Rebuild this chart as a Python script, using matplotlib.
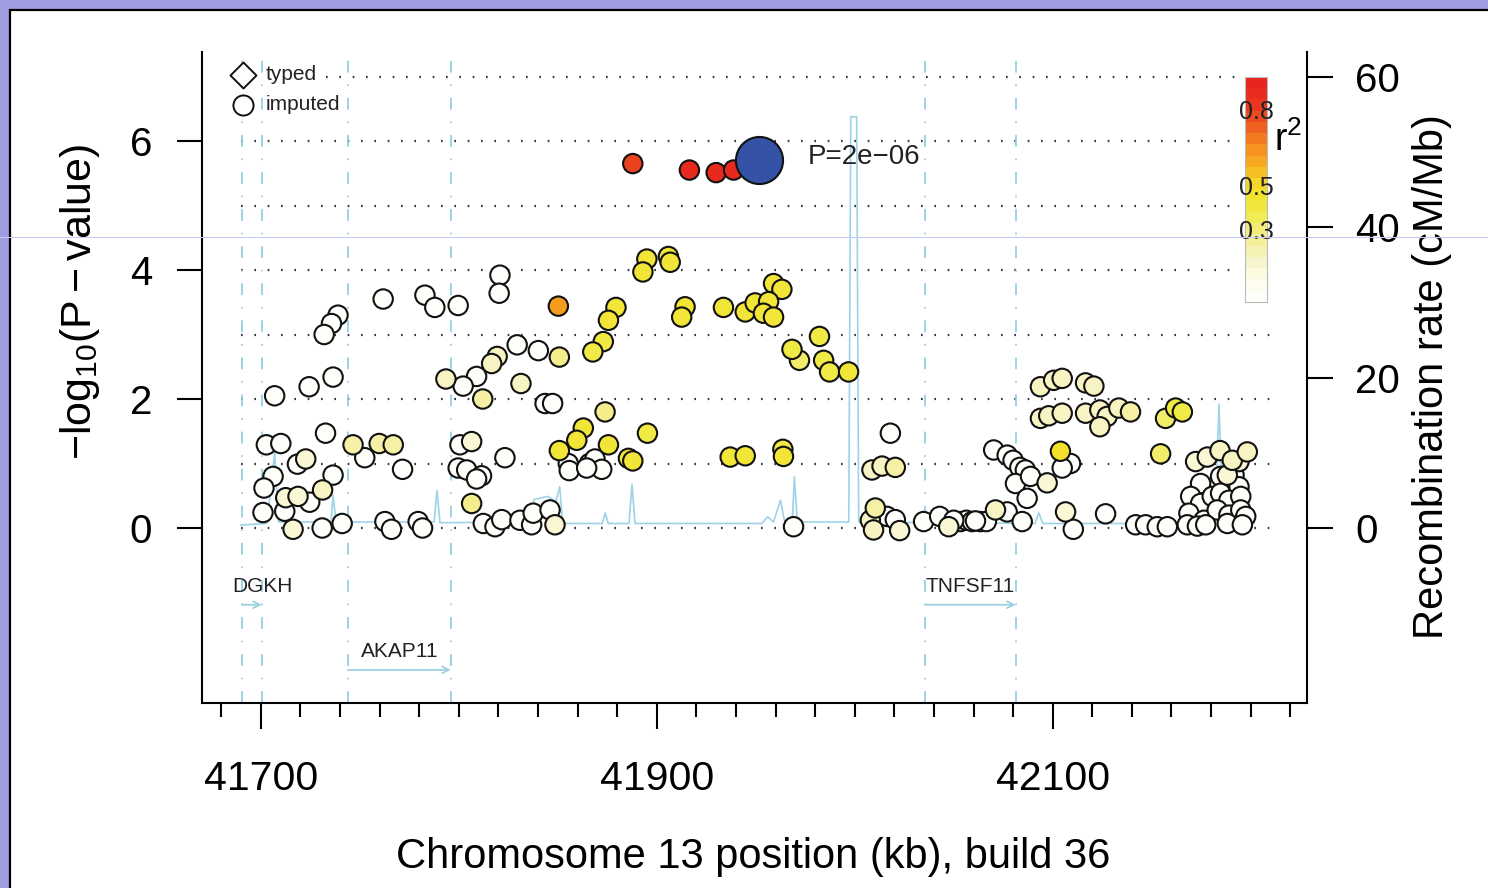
import numpy as np
import matplotlib
matplotlib.use('Agg')
import matplotlib.pyplot as plt
from matplotlib.colors import LinearSegmentedColormap
from matplotlib.patches import Rectangle
from matplotlib.lines import Line2D

plt.rcParams['font.family'] = ['Liberation Sans', 'DejaVu Sans']
plt.rcParams['mathtext.fontset'] = 'custom'
plt.rcParams['mathtext.rm'] = 'Liberation Sans'
plt.rcParams['mathtext.it'] = 'Liberation Sans:italic'
plt.rcParams['lines.scale_dashes'] = False

# imputed SNPs: position (kb), -log10(p), r2 with the lead SNP
snp_kb = [
    41761.8, 41782.9, 41787.9, 41799.7, 41739.0, 41735.7, 41732.0, 41707.0, 41724.4, 41736.5,
    41732.7, 41702.8, 41710.1, 41746.6, 41759.8, 41766.9, 41752.5, 41722.7, 41718.5, 41771.6,
    41706.2, 41736.5, 41701.6, 41731.2, 41712.6, 41718.8, 41724.7, 41701.1, 41712.1, 41716.3,
    41731.0, 41741.1, 41762.7, 41766.0, 41779.5, 41781.7,
    41820.8, 41820.4, 41850.3, 41829.5, 41840.2, 41850.8, 41819.4, 41816.6, 41809.0, 41802.2,
    41793.5, 41812.1, 41831.4, 41843.6, 41847.4, 41873.9, 41862.9, 41859.6, 41850.8, 41875.6,
    41895.3, 41885.7, 41887.9, 41800.6, 41806.5, 41823.3, 41799.7, 41804.0, 41811.5, 41809.0,
    41855.3, 41855.8, 41866.0, 41868.8, 41872.2, 41864.6, 41806.5, 41812.4, 41818.3, 41821.7,
    41830.9, 41836.8, 41837.6, 41846.1, 41848.6,
    41895.0, 41893.0, 41905.9, 41906.8, 41879.4, 41875.6, 41914.3, 41912.6, 41873.0, 41867.7,
    41887.9, 41916.5, 41930.0, 41938.8,
    41959.0, 41963.2, 41933.7, 41944.7, 41949.7, 41956.5, 41953.9, 41959.0, 41982.2, 41968.3,
    41972.1, 41984.3, 41987.3, 41996.9, 41937.1, 41944.7, 41963.7, 41964.0, 41969.1,
    42018.0, 42008.7, 42013.8, 42020.5, 42010.4, 42007.9, 42009.5, 42016.3, 42020.5, 42022.7,
    42034.8, 42042.9, 42047.5, 42053.4, 42056.4, 42059.3, 42063.5, 42066.5, 42071.1, 42077.0,
    42084.6, 42070.2, 42077.0, 42080.0, 42083.4, 42086.2, 42081.2, 42088.8, 42087.1, 42097.2,
    42103.9, 42109.0, 42104.8, 42106.5, 42110.4, 42093.8, 42100.5, 42104.8, 42093.8, 42098.0,
    42104.8, 42116.6, 42120.8, 42116.6, 42123.8, 42127.5, 42123.8, 42133.4, 42139.3, 42157.0,
    42162.1, 42165.5, 42154.5, 42126.7, 42141.9, 42146.9, 42152.8, 42157.9, 42061.0, 42050.0,
    42172.2, 42178.1, 42184.5, 42190.7, 42194.1, 42198.3, 42174.7, 42184.8, 42188.2, 42191.6,
    42194.1, 42169.7, 42174.7, 42180.6, 42184.8, 42189.0, 42195.0, 42168.8, 42176.4, 42183.1,
    42189.0, 42195.0, 42197.5, 42168.0, 42173.1, 42177.3, 42188.2, 42195.8,
]
snp_logp = [
    3.55, 3.61, 3.42, 3.45, 3.30, 3.17, 3.00, 2.05, 2.19, 2.34,
    1.47, 1.29, 1.31, 1.29, 1.31, 1.29, 1.09, 1.07, 0.99, 0.91,
    0.80, 0.82, 0.62, 0.59, 0.47, 0.49, 0.40, 0.24, 0.26, -0.02,
    0.00, 0.07, 0.10, -0.02, 0.10, 0.00,
    3.92, 3.64, 3.44, 2.84, 2.75, 2.65, 2.66, 2.55, 2.35, 2.20,
    2.31, 2.00, 2.24, 1.93, 1.93, 1.80, 1.55, 1.36, 1.20, 1.29,
    1.47, 1.08, 1.04, 1.29, 1.34, 1.09, 0.93, 0.90, 0.81, 0.76,
    1.00, 0.89, 1.00, 1.07, 0.91, 0.93, 0.38, 0.07, 0.02, 0.13,
    0.12, 0.05, 0.23, 0.28, 0.05,
    4.17, 3.97, 4.21, 4.12, 3.42, 3.22, 3.43, 3.27, 2.89, 2.73,
    5.65, 5.55, 5.51, 5.55,
    3.79, 3.70, 3.42, 3.35, 3.49, 3.51, 3.33, 3.27, 2.97, 2.77,
    2.60, 2.60, 2.42, 2.42, 1.10, 1.12, 1.22, 1.11, 0.02,
    1.47, 0.90, 0.96, 0.94, 0.31, 0.12, -0.03, 0.18, 0.13, -0.04,
    0.10, 0.18, 0.02, 0.10, 0.12, 0.10, 0.10, 0.10, 0.28, 0.25,
    0.10, 1.21, 1.13, 1.05, 0.94, 0.90, 0.69, 0.80, 0.46, 0.70,
    1.19, 1.00, 0.93, 0.25, -0.02, 2.19, 2.29, 2.32, 1.70, 1.74,
    1.78, 2.25, 2.20, 1.78, 1.83, 1.73, 1.57, 1.86, 1.80, 1.70,
    1.86, 1.80, 1.15, 0.22, 0.05, 0.05, 0.02, 0.02, 0.11, 0.12,
    1.03, 1.10, 1.20, 1.05, 1.03, 1.18, 0.69, 0.80, 0.82, 0.82,
    0.64, 0.49, 0.38, 0.49, 0.54, 0.43, 0.49, 0.23, 0.12, 0.28,
    0.20, 0.28, 0.18, 0.05, 0.03, 0.05, 0.07, 0.05,
]
snp_r2 = [
    0.02, 0.02, 0.02, 0.02, 0.02, 0.02, 0.02, 0.02, 0.02, 0.02,
    0.02, 0.02, 0.02, 0.25, 0.25, 0.25, 0.02, 0.15, 0.02, 0.02,
    0.02, 0.02, 0.02, 0.20, 0.15, 0.15, 0.02, 0.02, 0.02, 0.15,
    0.02, 0.02, 0.02, 0.02, 0.02, 0.02,
    0.02, 0.02, 0.65, 0.02, 0.02, 0.30, 0.20, 0.20, 0.02, 0.02,
    0.20, 0.25, 0.20, 0.02, 0.02, 0.30, 0.45, 0.45, 0.45, 0.45,
    0.40, 0.45, 0.45, 0.02, 0.15, 0.02, 0.02, 0.02, 0.02, 0.02,
    0.02, 0.02, 0.02, 0.02, 0.02, 0.02, 0.30, 0.02, 0.02, 0.02,
    0.02, 0.02, 0.02, 0.02, 0.15,
    0.45, 0.45, 0.45, 0.45, 0.45, 0.45, 0.45, 0.45, 0.40, 0.40,
    0.85, 0.95, 0.95, 0.95,
    0.45, 0.45, 0.45, 0.45, 0.45, 0.45, 0.45, 0.45, 0.40, 0.40,
    0.35, 0.40, 0.40, 0.45, 0.45, 0.45, 0.40, 0.45, 0.02,
    0.02, 0.20, 0.20, 0.25, 0.25, 0.20, 0.20, 0.02, 0.02, 0.15,
    0.02, 0.02, 0.15, 0.02, 0.02, 0.02, 0.02, 0.02, 0.20, 0.02,
    0.02, 0.02, 0.02, 0.02, 0.02, 0.02, 0.02, 0.02, 0.02, 0.15,
    0.50, 0.02, 0.02, 0.15, 0.02, 0.20, 0.20, 0.20, 0.20, 0.20,
    0.20, 0.20, 0.20, 0.20, 0.20, 0.20, 0.20, 0.20, 0.25, 0.35,
    0.40, 0.40, 0.35, 0.02, 0.02, 0.02, 0.02, 0.02, 0.02, 0.02,
    0.15, 0.15, 0.20, 0.20, 0.15, 0.20, 0.02, 0.02, 0.15, 0.02,
    0.02, 0.02, 0.02, 0.02, 0.02, 0.02, 0.02, 0.02, 0.02, 0.02,
    0.02, 0.02, 0.02, 0.02, 0.02, 0.02, 0.02, 0.02,
]

# lead SNP
lead_kb = 41951.4
lead_logp = 5.70
lead_label = 'P=2e\u221206'

# recombination rate (cM/Mb)
rec_kb = [41690, 41703, 41707, 41709, 41735.5, 41736.5, 41738, 41787.5, 41789, 41790.5,
          41836, 41838, 41845, 41849, 41851, 41852.5, 41872.5, 41874, 41875.5, 41886,
          41887.5, 41889, 41953, 41956, 41959, 41962.5, 41964.5, 41968.5, 41969.5, 41971,
          41997, 41998, 42001, 42002, 42091, 42093, 42095, 42182, 42184, 42186, 42197]
rec_rate = [0.4, 0.6, 10.0, 0.8, 0.8, 4.4, 0.8, 0.8, 5.0, 0.7,
            0.8, 3.8, 4.2, 3.5, 5.5, 0.6, 0.6, 2.0, 0.6, 0.6,
            5.8, 0.6, 0.6, 1.5, 0.8, 3.7, 1.0, 1.0, 6.8, 0.8,
            0.8, 54.7, 54.7, 0.8, 0.6, 2.0, 0.6, 0.6, 16.5, 1.0, 0.6]

# genes
gene_names = ['DGKH', 'AKAP11', 'TNFSF11']
gene_start = [41690.4, 41744.0, 42035.4]
gene_end = [41700.5, 41796.0, 42081.3]
gene_row = [1, 2, 1]

cbar_labels = ['0.8', '0.5', '0.3']
cbar_label_pos = [0.845, 0.505, 0.31]

W, H = 1488, 888
BLUE_LINE = '#9fd3e6'

r2_cmap = LinearSegmentedColormap.from_list('r2', [
    (0.0, '#ffffff'), (0.1, '#fcfbe8'), (0.2, '#f7f3c2'), (0.3, '#f3ee8a'),
    (0.4, '#f0ea45'), (0.5, '#f2e22a'), (0.6, '#f8b520'), (0.7, '#f48620'),
    (0.8, '#ee5520'), (0.9, '#e8301e'), (1.0, '#e8221c')])

fig = plt.figure(figsize=(W / 100, H / 100), dpi=100, facecolor='#9e9de0')
fig.add_artist(Rectangle((10 / W, -0.05), 1.1, 1 - 10 / H + 0.05, transform=fig.transFigure,
                         facecolor='white', edgecolor='black', lw=1.6, zorder=-5))

ax = fig.add_axes([202 / W, 1 - 703 / H, (1306.7 - 202) / W, (703 - 52) / H])
ax2 = ax.twinx()
ax.set_zorder(ax2.get_zorder() + 1)
ax.patch.set_visible(False)

ax.set_xlim(41670.3, 42228.3)
ax.set_ylim(-2.713, 7.38)
ax2.set_ylim(-23.28, 63.32)

# recombination rate behind everything
ax2.plot(rec_kb, rec_rate, color=BLUE_LINE, lw=1.2, zorder=1)

# dotted guide lines
for lvl in range(8):
    x0 = 41733 if lvl == 7 else 41690
    ax.plot([x0, 42210], [lvl, lvl], color='#333333', lw=1.6,
            linestyle=(0, (1.2, 8.4)), zorder=1)

# gene boundary lines, arrows and labels
for name, s, e, row in zip(gene_names, gene_start, gene_end, gene_row):
    for xv in (s, e):
        ax.axvline(xv, color='#8ccbe0', lw=1.2, linestyle=(0, (8.5, 8.5, 1.2, 8.5)), zorder=1)
    ya = -1.19 - (row - 1) * 1.01
    ax.annotate('', xy=(e, ya), xytext=(s, ya),
                arrowprops=dict(arrowstyle='->', color='#9fd0e0', lw=1.3, mutation_scale=12,
                                shrinkA=0, shrinkB=0), zorder=2)
    if name == 'DGKH':
        ax.text(s - 4.8, ya + 0.29, name, ha='left', va='center', fontsize=15, color='#222222')
    else:
        ax.text((s + e) / 2, ya + 0.29, name, ha='center', va='center', fontsize=15, color='#222222')

# white space behind the colour key
ax.add_patch(Rectangle((1236 / W, 1 - 312 / H), 40 / W, 245 / H, transform=fig.transFigure,
                       facecolor='white', edgecolor='none', zorder=1.5))

# SNPs, low r2 first
order = np.argsort(snp_r2, kind='stable')
kb = np.array(snp_kb)[order]
lp = np.array(snp_logp)[order]
r2 = np.array(snp_r2)[order]
ax.scatter(kb, lp, s=195, c=r2_cmap(r2), edgecolors='#111111', linewidths=1.5, zorder=3)
ax.scatter([lead_kb], [lead_logp], s=1150, c='#3452a6', edgecolors='#111111', linewidths=1.5, zorder=4)
ax.text(lead_kb + 25, lead_logp + 0.05, lead_label, ha='left', va='center', fontsize=20, color='#222222')

# legend for marker shapes
ax.scatter([0.0371], [0.9647], marker='D', s=175, facecolors='white', edgecolors='#111111',
           linewidths=1.4, transform=ax.transAxes, zorder=4, clip_on=False)
ax.scatter([0.0371], [0.9186], marker='o', s=210, facecolors='white', edgecolors='#111111',
           linewidths=1.4, transform=ax.transAxes, zorder=4, clip_on=False)
ax.text(0.058, 0.9647, 'typed', transform=ax.transAxes, ha='left', va='center', fontsize=15, color='#222222')
ax.text(0.058, 0.9186, 'imputed', transform=ax.transAxes, ha='left', va='center', fontsize=15, color='#222222')

# axes styling
for sp in ('top', 'right'):
    ax.spines[sp].set_visible(False)
for sp in ('top', 'left', 'bottom'):
    ax2.spines[sp].set_visible(False)
for sp in ('left', 'bottom'):
    ax.spines[sp].set_linewidth(1.5)
ax2.spines['right'].set_linewidth(1.5)

ax.set_yticks([0, 2, 4, 6])
ax.tick_params(axis='y', direction='out', length=18, width=1.5, labelsize=29, pad=18)
ax2.set_yticks([0, 20, 40, 60])
ax2.tick_params(axis='y', direction='out', length=19, width=1.5, labelsize=29, pad=16)
ax.set_xticks([41700, 41900, 42100])
ax.set_xticks(np.arange(41680, 42221, 20), minor=True)
ax.tick_params(axis='x', which='major', direction='out', length=19, width=1.5, labelsize=29.5, pad=22)
ax.tick_params(axis='x', which='minor', direction='out', length=10, width=1.5)

fig.text(80 / W, 1 - 302 / H, r'$-\mathrm{log}_{10}(\mathrm{P-value})$', rotation=90,
         ha='center', va='center', fontsize=31)
fig.text(1432 / W, 1 - 377 / H, 'Recombination rate (cM/Mb)', rotation=90,
         ha='center', va='center', fontsize=30)
fig.text(753 / W, 1 - 857 / H, 'Chromosome 13 position (kb), build 36',
         ha='center', va='center', fontsize=30)

# colour key for r2
cax = fig.add_axes([1245 / W, 1 - 302 / H, 22 / W, 225 / H])
cax.set_zorder(5)
edges = np.linspace(0, 1, 21)
mids = (edges[:-1] + edges[1:]) / 2
cax.pcolormesh([0, 1], edges, mids.reshape(-1, 1), cmap=r2_cmap, vmin=0, vmax=1)
cax.set_xlim(0, 1)
cax.set_ylim(0, 1)
cax.set_xticks([])
cax.set_yticks([])
for sp in cax.spines.values():
    sp.set_color('#bbbbbb')
    sp.set_linewidth(0.8)
for lab, pos in zip(cbar_labels, cbar_label_pos):
    cax.text(0.5, pos, lab, transform=cax.transAxes, ha='center', va='center', fontsize=18, color='#222222')
fig.text(1288 / W, 1 - 140 / H, r'r$^2$', ha='center', va='center', fontsize=27)

# faint scan line across the screenshot
fig.add_artist(Line2D([0, 1], [1 - 237 / H] * 2, transform=fig.transFigure,
                      color='#cacaf2', lw=0.8, zorder=20))

fig.savefig('out.png', dpi=100, facecolor=fig.get_facecolor())
